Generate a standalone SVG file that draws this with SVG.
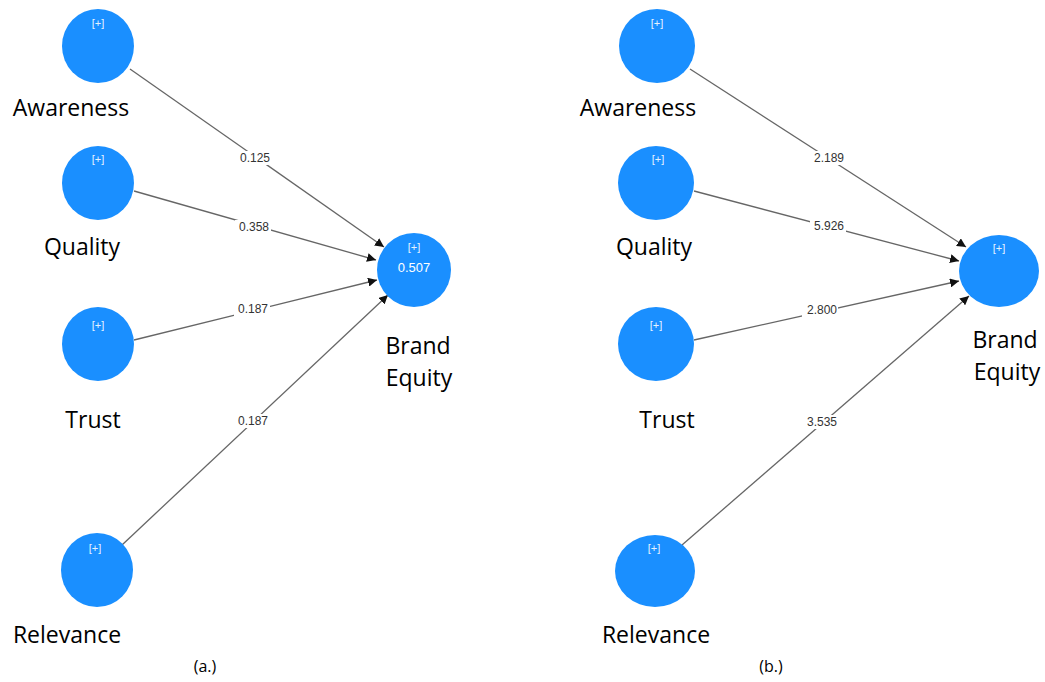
<svg xmlns="http://www.w3.org/2000/svg" width="1045" height="682" viewBox="0 0 1045 682">
<style>
.n{fill:#1a8fff;}
.p{fill:#e6f2ff;font-family:"Liberation Sans",Arial,sans-serif;font-size:11px;text-anchor:middle;}
.v{fill:#ffffff;font-family:"Liberation Sans",Arial,sans-serif;font-size:13px;text-anchor:middle;}
.lb{fill:#000;font-family:"Open Sans","Liberation Sans",sans-serif;font-size:23px;text-anchor:middle;}
.e{stroke:#666;stroke-width:1.3;fill:none;marker-end:url(#ah);}
.el{fill:#333;font-family:"Liberation Sans",Arial,sans-serif;font-size:12px;text-anchor:middle;}
.bg{fill:#fff;}
.cap{fill:#000;font-family:"Open Sans","Liberation Sans",sans-serif;font-size:16px;text-anchor:middle;}
</style>
<defs>
<marker id="ah" viewBox="0 0 10 10" refX="10" refY="5" markerWidth="9" markerHeight="9" markerUnits="userSpaceOnUse" orient="auto">
<path d="M0,0 L10,5 L0,10 z" fill="#111"/>
</marker>
</defs>
<rect width="1045" height="682" fill="#fff"/>
<g id="connectors">
<line class="e" x1="130" y1="69" x2="384" y2="247"/>
<line class="e" x1="134" y1="191" x2="376" y2="260"/>
<line class="e" x1="134" y1="340" x2="377" y2="280"/>
<line class="e" x1="122" y1="545" x2="388" y2="295"/>
<rect class="bg" x="237" y="151" width="36" height="14"/><text class="el" x="255" y="162">0.125</text>
<rect class="bg" x="235" y="220" width="36" height="14"/><text class="el" x="254" y="231">0.358</text>
<rect class="bg" x="234" y="302" width="36" height="14"/><text class="el" x="253" y="313">0.187</text>
<rect class="bg" x="234" y="414" width="36" height="14"/><text class="el" x="253" y="425">0.187</text>
<line class="e" x1="690" y1="69" x2="966" y2="247"/>
<line class="e" x1="694" y1="191" x2="959" y2="261"/>
<line class="e" x1="694" y1="340" x2="959" y2="281"/>
<line class="e" x1="682" y1="545" x2="969" y2="296"/>
<rect class="bg" x="810" y="151" width="36" height="14"/><text class="el" x="829" y="162">2.189</text>
<rect class="bg" x="810" y="219" width="36" height="14"/><text class="el" x="829" y="230">5.926</text>
<rect class="bg" x="802" y="303" width="36" height="14"/><text class="el" x="822" y="314">2.800</text>
<rect class="bg" x="802" y="415" width="36" height="14"/><text class="el" x="822" y="426">3.535</text>
</g>
<g id="a-awareness"><ellipse class="n" cx="98" cy="46" rx="36" ry="37"/><text class="p" x="98" y="27">[+]</text><text class="lb" x="71" y="116">Awareness</text></g>
<g id="a-quality"><ellipse class="n" cx="98" cy="183" rx="36" ry="37"/><text class="p" x="98" y="163">[+]</text><text class="lb" x="82" y="255">Quality</text></g>
<g id="a-trust"><ellipse class="n" cx="98" cy="344" rx="36" ry="37"/><text class="p" x="98" y="329">[+]</text><text class="lb" x="93" y="428">Trust</text></g>
<g id="a-relevance"><ellipse class="n" cx="97" cy="570" rx="36" ry="37"/><text class="p" x="95" y="552">[+]</text><text class="lb" x="67" y="643">Relevance</text></g>
<g id="a-brand-equity"><ellipse class="n" cx="414" cy="270" rx="37" ry="37"/><text class="p" x="414" y="251">[+]</text><text class="v" x="414" y="272">0.507</text><text class="lb" x="418" y="354">Brand</text><text class="lb" x="419" y="386">Equity</text></g>
<g id="b-awareness"><ellipse class="n" cx="657" cy="46" rx="38" ry="37"/><text class="p" x="657" y="27">[+]</text><text class="lb" x="638" y="116">Awareness</text></g>
<g id="b-quality"><ellipse class="n" cx="656" cy="183" rx="38" ry="37"/><text class="p" x="658" y="163">[+]</text><text class="lb" x="654" y="255">Quality</text></g>
<g id="b-trust"><ellipse class="n" cx="656" cy="344" rx="38" ry="37"/><text class="p" x="656" y="329">[+]</text><text class="lb" x="667" y="428">Trust</text></g>
<g id="b-relevance"><ellipse class="n" cx="655" cy="571" rx="40" ry="36"/><text class="p" x="654" y="552">[+]</text><text class="lb" x="656" y="643">Relevance</text></g>
<g id="b-brand-equity"><ellipse class="n" cx="999" cy="271" rx="40" ry="36"/><text class="p" x="999" y="252">[+]</text><text class="lb" x="1005" y="348">Brand</text><text class="lb" x="1007" y="380">Equity</text></g>
<g id="captions"><text class="cap" x="205" y="672">(a.)</text><text class="cap" x="771" y="672">(b.)</text></g>
</svg>
